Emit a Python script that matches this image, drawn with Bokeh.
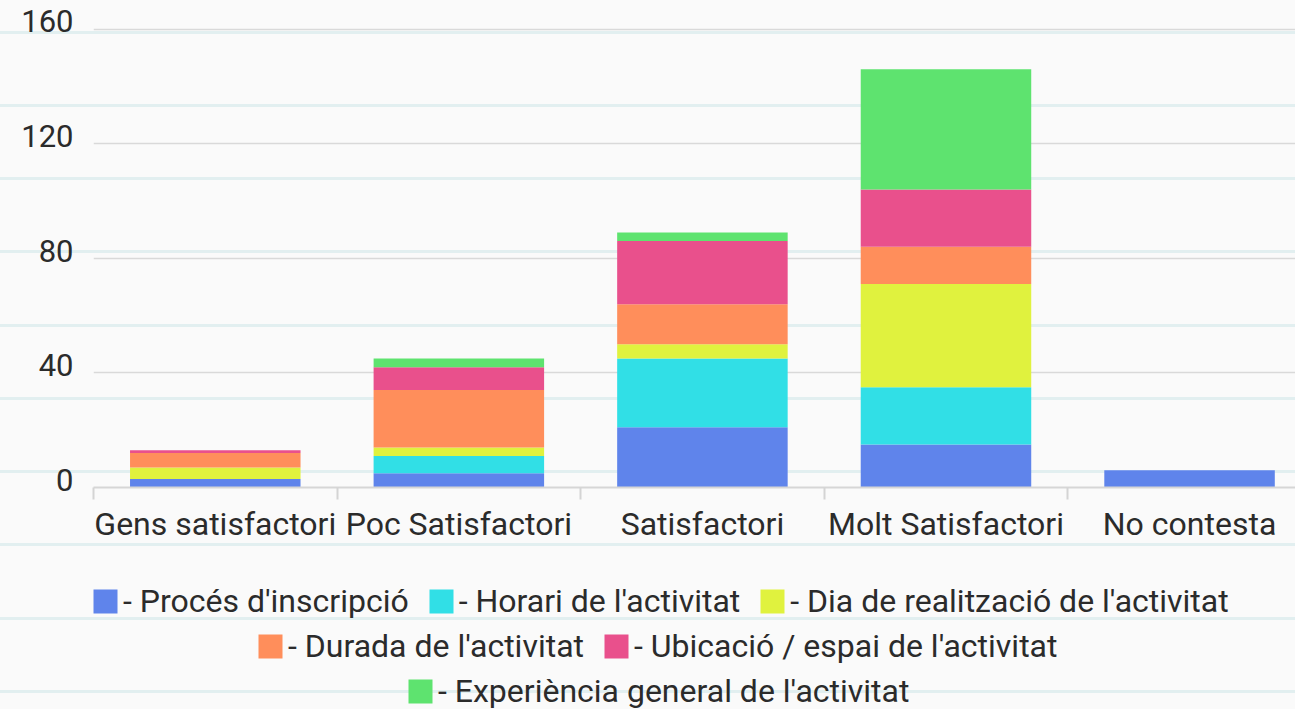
from bokeh.plotting import figure
from bokeh.layouts import column
from bokeh.models import FixedTicker, Legend, LegendItem, ColumnDataSource, Range1d
from bokeh.embed import file_html
from bokeh.resources import INLINE

# ---- data ----
categories = ["Gens satisfactori", "Poc Satisfactori", "Satisfactori", "Molt Satisfactori", "No contesta"]
series_labels = [
    "- Procés d'inscripció",
    "- Horari de l'activitat",
    "- Dia de realització de l'activitat",
    "- Durada de l'activitat",
    "- Ubicació / espai de l'activitat",
    "- Experiència general de l'activitat",
]
proces = [3, 5, 21, 15, 6]
horari = [0, 6, 24, 20, 0]
dia = [4, 3, 5, 36, 0]
durada = [5, 20, 14, 13, 0]
ubicacio = [1, 8, 22, 20, 0]
experiencia = [0, 3, 3, 42, 0]
y_ticks = [0, 40, 80, 120, 160]

colors = ["#5f84eb", "#31dfe6", "#e0f23e", "#ff8e5b", "#e9508c", "#5ee36f"]
keys = ["proces", "horari", "dia", "durada", "ubicacio", "experiencia"]

x_centers = [i + 0.5 for i in range(len(categories))]
x_bounds = [float(i) for i in range(len(categories))]

source = ColumnDataSource(data=dict(
    x=x_centers, proces=proces, horari=horari, dia=dia,
    durada=durada, ubicacio=ubicacio, experiencia=experiencia,
))

TEXT = "#2b2b2b"
BG = "#fafafa"
W = 1295
CHART_H = 568
LEG_H = 141
BORDER_L, BORDER_T, BORDER_B = 93, 20, 81
Y_END = 163            # a little headroom above the 160 grid line for its label
frame_h = CHART_H - BORDER_T - BORDER_B
label_lift = 7.7 * Y_END / frame_h   # tick labels sit just above their grid lines

# ---- chart ----
p = figure(width=W, height=CHART_H, x_range=(0, 4.935), y_range=(0, Y_END),
           output_backend="svg", toolbar_location=None,
           min_border_left=BORDER_L, min_border_right=0, min_border_top=BORDER_T, min_border_bottom=BORDER_B)
p.background_fill_alpha = 0
p.border_fill_alpha = 0
p.outline_line_color = None

renderers = p.vbar_stack(keys, x="x", width=0.7, source=source,
                         fill_color=colors, line_color=None)

p.xaxis.ticker = FixedTicker(ticks=x_centers, minor_ticks=x_bounds)
p.xaxis.major_label_overrides = {x: c for x, c in zip(x_centers, categories)}
p.xaxis.major_tick_line_color = None
p.xaxis.major_tick_out = 12
p.xaxis.major_tick_in = 0
p.xaxis.minor_tick_out = 12
p.xaxis.minor_tick_in = 0
p.xaxis.minor_tick_line_color = "#d4d4d4"
p.xaxis.minor_tick_line_width = 2
p.xaxis.axis_line_color = "#d6d6d6"
p.xaxis.axis_line_width = 2
p.xaxis.major_label_standoff = 5
p.xaxis.major_label_text_font = "Roboto"
p.xaxis.major_label_text_font_size = "32px"
p.xaxis.major_label_text_color = TEXT

label_pos = [t + label_lift for t in y_ticks]
p.yaxis.ticker = FixedTicker(ticks=label_pos)
p.yaxis.major_label_overrides = {lp: str(t) for lp, t in zip(label_pos, y_ticks)}
p.yaxis.axis_line_color = None
p.yaxis.major_tick_line_color = None
p.yaxis.minor_tick_line_color = None
p.yaxis.major_tick_out = 0
p.yaxis.major_label_standoff = 20
p.yaxis.major_label_text_font = "Roboto"
p.yaxis.major_label_text_font_size = "31px"
p.yaxis.major_label_text_color = TEXT

p.xgrid.visible = False
p.ygrid.ticker = FixedTicker(ticks=y_ticks)
p.ygrid.grid_line_color = "#d9d9d9"
p.ygrid.grid_line_width = 1.5

# ---- legend strip ----
# the series are repeated here with zero width and outside the y window: nothing is drawn,
# only their legend swatches are shown
leg = figure(width=W, height=LEG_H, x_range=p.x_range, y_range=Range1d(-2, -1),
             output_backend="svg", toolbar_location=None,
             x_axis_location=None, y_axis_location=None,
             min_border_left=BORDER_L, min_border_right=0, min_border_top=0, min_border_bottom=0)
leg.background_fill_alpha = 0
leg.border_fill_alpha = 0
leg.outline_line_color = None
leg.grid.visible = False
swatches = leg.vbar_stack(keys, x="x", width=0, source=source, fill_color=colors, line_color=None)

rows = [[0, 1, 2], [3, 4], [5]]
locs = [(-3, 89.5), (162, 44), (312, -1)]
for row, loc in zip(rows, locs):
    items = [LegendItem(label=series_labels[i], renderers=[swatches[i]]) for i in row]
    lg = Legend(items=items, orientation="horizontal", location=loc,
                glyph_width=30, glyph_height=30, label_standoff=3, spacing=17,
                padding=0, margin=0, border_line_alpha=0, background_fill_alpha=0,
                label_text_font="Roboto", label_text_font_size="32px", label_text_color=TEXT)
    leg.add_layout(lg)

layout = column(p, leg, spacing=0)
layout.styles = {
    "background-color": BG,
    "background-image": "repeating-linear-gradient(to bottom, rgba(0,0,0,0) 0px, rgba(0,0,0,0) 30.5px, "
                        "#e2eff0 30.5px, #e2eff0 33.5px, rgba(0,0,0,0) 33.5px, rgba(0,0,0,0) 73.25px)",
}

open("out.html", "w").write(file_html(layout, INLINE))
